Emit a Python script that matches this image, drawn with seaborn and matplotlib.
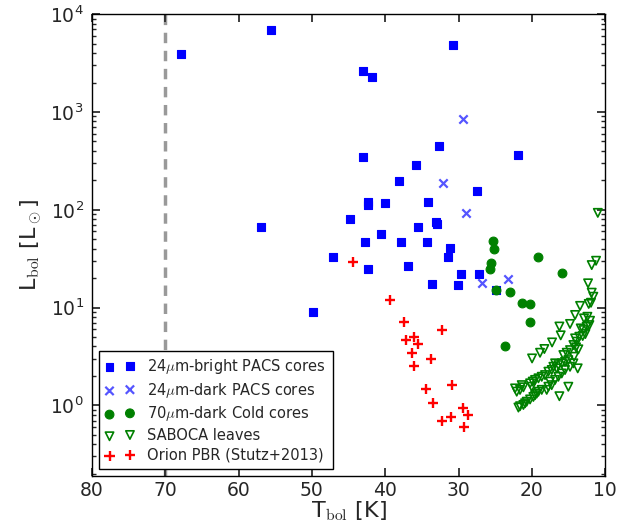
import matplotlib
matplotlib.use("Agg")
import matplotlib.pyplot as plt
import numpy as np
import pandas as pd
import seaborn as sns
from matplotlib.ticker import LogLocator, MultipleLocator

# 24um-bright PACS cores
bright_T = [67.9, 55.6, 43.0, 41.8, 30.8, 43.0, 32.6, 21.9, 35.75, 38.1, 27.5,
            42.4, 42.4, 40.0, 34.1, 44.75, 33.1, 33.0, 35.5, 57.0, 40.6, 42.75,
            37.9, 34.3, 31.1, 47.1, 31.4, 42.3, 36.9, 29.6, 27.2, 33.6, 30.1,
            49.9, 24.9]
bright_L = [3900, 6900, 2620, 2280, 4860, 344, 448, 363, 289, 198, 154,
            120, 113, 116, 121, 80, 75, 72, 66.5, 66.5, 56.5, 46.4,
            46.4, 46.7, 40.3, 33, 33, 25, 26.6, 22.2, 22.2, 17.3, 16.9,
            9.0, 15.1]

# 24um-dark PACS cores
dark_T = [29.4, 32.1, 29.0, 26.8, 23.2]
dark_L = [840, 190, 93, 17.7, 19.6]

# 70um-dark cold cores
cold_T = [25.25, 25.2, 25.6, 25.7, 19.2, 15.9, 24.9, 23.0, 21.3, 20.3, 20.3, 23.6]
cold_L = [48.2, 39.4, 28.3, 24.9, 32.8, 22.5, 15.1, 14.4, 11.2, 10.9, 7.2, 4.04]

# SABOCA leaves
leaf_T = [11.0, 11.24, 11.83, 12.33, 11.83, 11.61, 11.93, 12.24, 13.42, 14.1,
          14.79, 16.24, 16.06, 17.24, 18.29, 18.88, 19.97,
          12.88, 12.42, 12.06, 13.33, 12.97, 12.52, 12.15, 13.52, 13.06, 12.7,
          14.1, 13.88, 14.33, 13.97, 13.65, 14.79, 15.24, 15.7, 14.24, 13.74,
          15.02, 15.47, 15.92, 16.38, 16.83, 17.06, 16.61, 17.29, 17.74, 18.2,
          18.65, 19.1, 19.56, 19.88, 20.24, 15.02, 16.24, 17.52, 16.83, 16.38,
          15.92, 15.47, 14.79, 14.33,
          22.29, 22.06, 21.38, 21.15, 21.61, 20.02, 17.29, 17.74, 17.97, 18.65,
          19.1, 19.56, 19.79, 20.24, 20.7, 20.92, 21.15, 21.61, 21.83, 19.33]
leaf_L = [93, 30.1, 27.2, 17.7, 14.2, 12.9, 11.2, 10.9, 10.4, 8.4,
          6.8, 6.4, 5.2, 4.4, 3.77, 3.45, 3.02,
          7.75, 8.05, 7.33, 6.12, 5.89, 6.37, 6.62, 5.03, 5.12, 5.36,
          4.84, 4.48, 4.14, 3.92, 3.74, 3.67, 3.45, 3.27, 3.14, 2.39,
          2.9, 2.79, 2.69, 2.58, 2.69, 2.48, 2.39, 2.3, 2.21, 2.04,
          1.96, 1.89, 1.82, 1.75, 1.68, 1.55, 1.24, 1.75, 1.82, 1.96,
          2.12, 2.3, 2.48, 2.69,
          1.49, 1.38, 1.61, 1.53, 1.44, 1.55, 1.61, 1.55, 1.44, 1.44,
          1.38, 1.27, 1.22, 1.15, 1.09, 1.05, 1.01, 0.98, 0.95, 1.32]

# Orion PBRs (Stutz+2013)
pbr_T = [44.4, 39.4, 37.5, 32.3, 37.1, 36.1, 35.5, 36.4, 33.7, 36.1,
         30.9, 34.5, 33.5, 29.4, 28.75, 31.0, 32.25, 29.2]
pbr_L = [29.2, 11.9, 7.1, 5.93, 4.65, 4.96, 4.2, 3.4, 2.97, 2.54,
         1.6, 1.46, 1.06, 0.95, 0.79, 0.76, 0.70, 0.60]

labels = [r"24$\mu$m-bright PACS cores", r"24$\mu$m-dark PACS cores",
          r"70$\mu$m-dark Cold cores", "SABOCA leaves", "Orion PBR (Stutz+2013)"]

sns.set_theme(style="ticks", rc={
    "xtick.direction": "in", "ytick.direction": "in",
    "xtick.top": True, "ytick.right": True,
    "xtick.major.size": 6, "ytick.major.size": 6,
    "xtick.minor.size": 3, "ytick.minor.size": 3,
    "axes.edgecolor": "black", "axes.linewidth": 1.0,
})
plt.rcParams["font.family"] = ["DejaVu Sans"]
plt.rcParams["mathtext.fontset"] = "cm"
plt.rcParams["mathtext.default"] = "it"

fig, ax = plt.subplots(figsize=(6.39, 5.27), dpi=100)
fig.subplots_adjust(left=0.144, right=0.947, bottom=0.097, top=0.973)

ax.axvline(70, color="#999999", ls="--", lw=2.5, dashes=(3, 2.2), zorder=0)

df_b = pd.DataFrame({"T": bright_T, "L": bright_L})
df_d = pd.DataFrame({"T": dark_T, "L": dark_L})
df_c = pd.DataFrame({"T": cold_T, "L": cold_L})
df_s = pd.DataFrame({"T": leaf_T, "L": leaf_L})
df_p = pd.DataFrame({"T": pbr_T, "L": pbr_L})

sns.scatterplot(data=df_b, x="T", y="L", ax=ax, marker="s", color="#0000ff",
                edgecolor="#0000ff", s=30, linewidth=0.8, label=labels[0])
sns.scatterplot(data=df_d, x="T", y="L", ax=ax, marker="x", color="#5555ff",
                s=36, linewidth=1.6, label=labels[1])
sns.scatterplot(data=df_c, x="T", y="L", ax=ax, marker="o", color="#008000",
                edgecolor="#008000", s=40, linewidth=0.8, label=labels[2])
sns.scatterplot(data=df_s, x="T", y="L", ax=ax, marker="v", color="#008000",
                facecolors="none", edgecolors="#008000", s=36, linewidth=1.2,
                label=labels[3])
sns.scatterplot(data=df_p, x="T", y="L", ax=ax, marker="+", color="#ff0000",
                s=55, linewidth=1.7, label=labels[4])

ax.set_yscale("log")
ax.set_xlim(80, 10)
ax.set_ylim(0.19, 1e4)
ax.xaxis.set_major_locator(MultipleLocator(10))
ax.yaxis.set_major_locator(LogLocator(base=10, numticks=10))
ax.yaxis.set_minor_locator(LogLocator(base=10, subs=np.arange(2, 10), numticks=20))
ax.tick_params(axis="x", which="major", labelsize=13.5, pad=4)
ax.tick_params(axis="y", which="major", labelsize=13.5, pad=6)

ax.set_xlabel(r"T$_{\rm bol}$ [K]", fontsize=16, labelpad=-1)
ax.set_ylabel(r"L$_{\rm bol}$ [L$_\odot$]", fontsize=16, labelpad=4)

leg = ax.legend(loc="lower left", scatterpoints=2, fontsize=10.5, frameon=True,
                fancybox=False, framealpha=1, edgecolor="black",
                borderaxespad=0.45, labelspacing=0.32, handletextpad=0.9,
                borderpad=0.45)
leg.get_frame().set_linewidth(1.0)

fig.savefig("out.png", dpi=100)
